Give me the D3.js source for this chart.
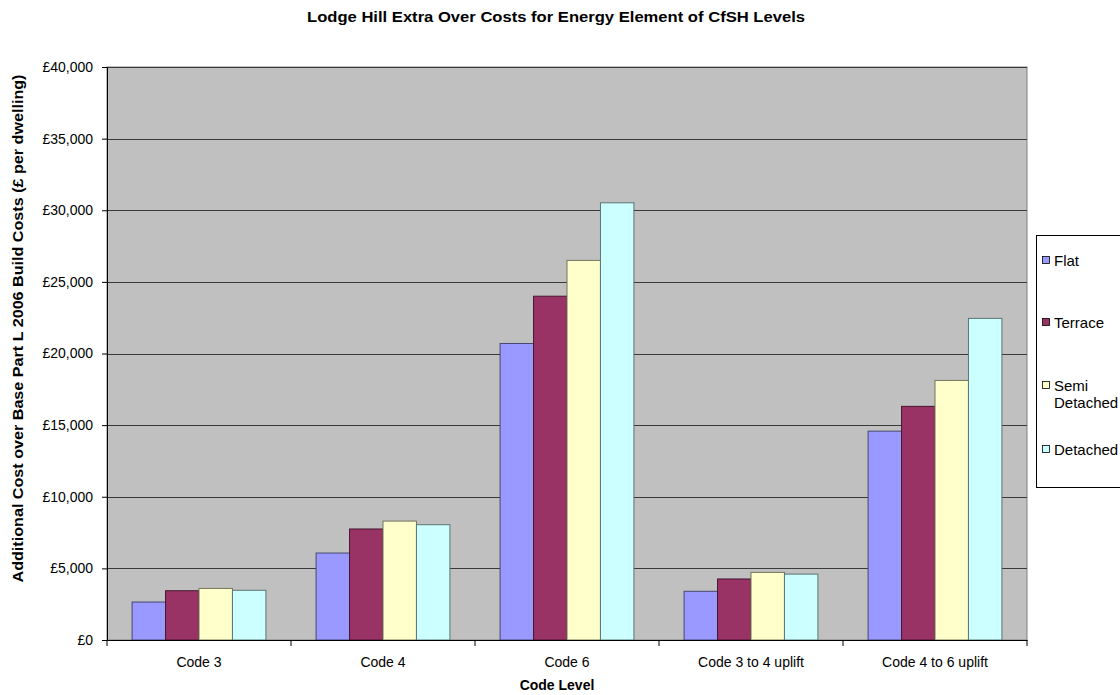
<!DOCTYPE html>
<html>
<head>
<meta charset="utf-8">
<script src="https://cdn.jsdelivr.net/npm/d3@7"></script>
<style>
  body { margin: 0; background: #fff; }
  svg { font-family: "Liberation Sans", Arial, sans-serif; }
</style>
</head>
<body>
<svg id="chart" width="1120" height="695"></svg>
<script>
// Extra over costs per dwelling (£) by Code level and dwelling type
const categories = ["Code 3", "Code 4", "Code 6", "Code 3 to 4 uplift", "Code 4 to 6 uplift"];
const seriesNames = ["Flat", "Terrace", "Semi Detached", "Detached"];
const flat     = [2650, 6070, 20700, 3400, 14580];
const terrace  = [3440, 7750, 24000, 4260, 16310];
const semi     = [3600, 8300, 26500, 4720, 18120];
const detached = [3470, 8050, 30520, 4600, 22450];
const yTicks = [0, 5000, 10000, 15000, 20000, 25000, 30000, 35000, 40000];
const colors = ["#9999ff", "#993366", "#ffffcc", "#ccffff"];

const seriesValues = [flat, terrace, semi, detached];

const svg = d3.select("#chart");
const m = { left: 107, right: 1027, top: 67, bottom: 640 };

const x0 = d3.scaleBand().domain(categories).range([m.left, m.right]);
// four bars per group, with a gap of 1.5 bar widths between groups
const barW = x0.bandwidth() / (seriesNames.length + 1.5);
const x1 = d3.scaleBand().domain(seriesNames)
  .range([barW * 0.75, barW * 0.75 + barW * seriesNames.length]);
const y = d3.scaleLinear().domain([0, 40000]).range([m.bottom, m.top]);

// plot background
svg.append("rect")
  .attr("x", m.left).attr("y", m.top)
  .attr("width", m.right - m.left).attr("height", m.bottom - m.top)
  .attr("fill", "#c0c0c0").attr("stroke", "#808080").attr("stroke-width", 1);

// gridlines
svg.append("g").selectAll("line")
  .data(yTicks.slice(1))
  .join("line")
  .attr("x1", m.left).attr("x2", m.right)
  .attr("y1", d => Math.round(y(d)) + 0.5).attr("y2", d => Math.round(y(d)) + 0.5)
  .attr("stroke", "#3a3a3a").attr("stroke-width", 1);

// bars
const groups = svg.append("g").selectAll("g")
  .data(categories)
  .join("g")
  .attr("transform", d => `translate(${x0(d)},0)`);

groups.selectAll("rect")
  .data((d, i) => seriesValues.map((s, j) => ({ name: seriesNames[j], j, v: s[i] })))
  .join("rect")
  .attr("x", d => x1(d.name))
  .attr("y", d => y(d.v))
  .attr("width", x1.bandwidth())
  .attr("height", d => y(0) - y(d.v))
  .attr("fill", d => colors[d.j])
  .attr("stroke", d => d3.color(colors[d.j]).darker(2.2))
  .attr("stroke-width", 1);

// y axis
const yAxis = d3.axisLeft(y).tickValues(yTicks).tickSize(5)
  .tickFormat(d => "£" + d3.format(",")(d));
const gy = svg.append("g").attr("transform", `translate(${m.left},0)`).call(yAxis);
gy.select(".domain").attr("stroke", "#000");
gy.selectAll(".tick line").attr("stroke", "#000");
gy.selectAll("text").attr("font-size", 14).attr("fill", "#000").attr("x", -14);

// x axis
const xAxis = d3.axisBottom(x0).tickSize(0).tickSizeOuter(0);
const gx = svg.append("g").attr("transform", `translate(0,${m.bottom})`).call(xAxis);
gx.select(".domain").attr("stroke", "#000");
gx.selectAll("text").attr("font-size", 14).attr("fill", "#000").attr("y", 17).attr("dy", "0.71em");
// category separator ticks
svg.append("g").selectAll("line")
  .data(d3.range(categories.length + 1))
  .join("line")
  .attr("x1", i => m.left + i * x0.bandwidth()).attr("x2", i => m.left + i * x0.bandwidth())
  .attr("y1", m.bottom).attr("y2", m.bottom + 6)
  .attr("stroke", "#000");

// titles
svg.append("text").attr("x", 556).attr("y", 22).attr("text-anchor", "middle")
  .attr("font-size", 15.5).attr("font-weight", "bold")
  .attr("textLength", 498).attr("lengthAdjust", "spacingAndGlyphs")
  .text("Lodge Hill Extra Over Costs for Energy Element of CfSH Levels");
svg.append("text").attr("x", 557).attr("y", 690).attr("text-anchor", "middle")
  .attr("font-size", 14).attr("font-weight", "bold").text("Code Level");
svg.append("text")
  .attr("transform", `translate(23,${(m.top + m.bottom) / 2 - 25}) rotate(-90)`)
  .attr("text-anchor", "middle").attr("font-size", 14.5).attr("font-weight", "bold")
  .attr("textLength", 508).attr("lengthAdjust", "spacingAndGlyphs")
  .text("Additional Cost over Base Part L 2006 Build Costs (£ per dwelling)");

// legend
const lg = svg.append("g");
lg.append("rect").attr("x", 1036.5).attr("y", 235.5).attr("width", 100).attr("height", 252)
  .attr("fill", "#fff").attr("stroke", "#000").attr("stroke-width", 1);
const legendRows = [
  { lines: ["Flat"], y: 260 },
  { lines: ["Terrace"], y: 322 },
  { lines: ["Semi", "Detached"], y: 385 },
  { lines: ["Detached"], y: 449 }
];
legendRows.forEach((r, i) => {
  lg.append("rect").attr("x", 1042.5).attr("y", r.y - 3.5).attr("width", 7).attr("height", 7)
    .attr("fill", colors[i]).attr("stroke", "#000").attr("stroke-width", 0.8);
  const t = lg.append("text").attr("x", 1054).attr("y", r.y + 5.5).attr("font-size", 15);
  r.lines.forEach((ln, k) => {
    t.append("tspan").attr("x", 1054).attr("dy", k === 0 ? 0 : 17).text(ln);
  });
});
</script>
</body>
</html>
